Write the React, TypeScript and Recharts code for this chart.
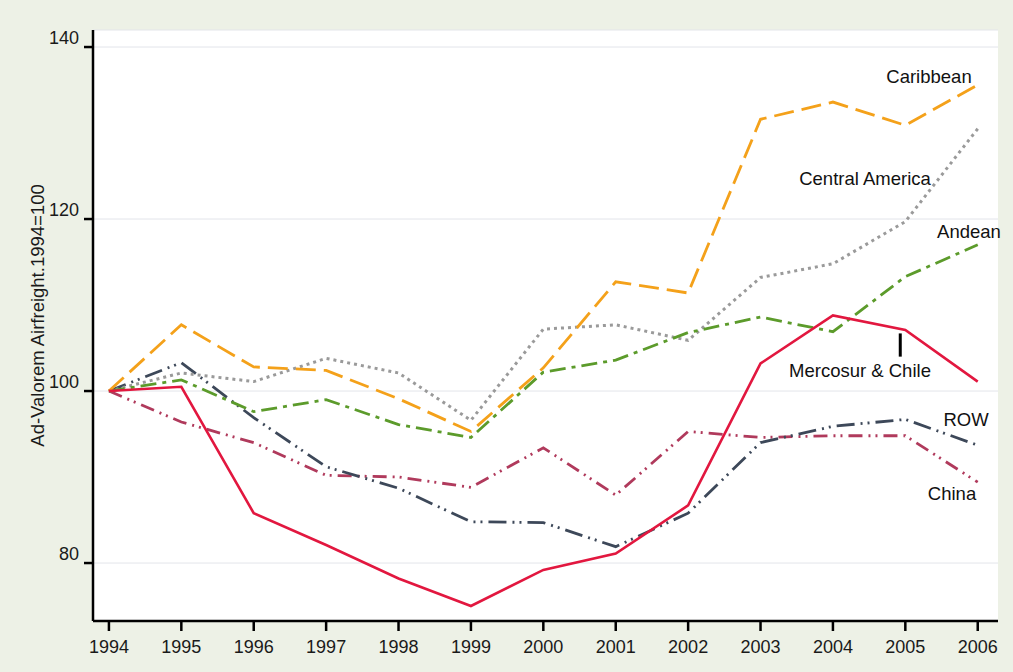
import React from 'react';
import { LineChart, Line, XAxis, YAxis, CartesianGrid, ReferenceLine } from 'recharts';

const years = [1994, 1995, 1996, 1997, 1998, 1999, 2000, 2001, 2002, 2003, 2004, 2005, 2006];
const caribbean = [100, 107.7, 102.8, 102.4, 99.1, 95.3, 102.7, 112.7, 111.4, 131.6, 133.6, 130.9, 135.6];
const centralAmerica = [100, 102.1, 101.1, 103.8, 102.1, 96.6, 107.2, 107.7, 105.9, 113.2, 114.8, 119.7, 130.5];
const andean = [100, 101.3, 97.6, 99.0, 96.1, 94.6, 102.2, 103.6, 106.8, 108.6, 106.9, 113.3, 117.0];
const mercosur = [100, 100.5, 85.8, 82.1, 78.2, 75.0, 79.2, 81.1, 86.7, 103.2, 108.8, 107.1, 101.1];
const row = [100, 103.3, 96.9, 91.2, 88.7, 84.8, 84.7, 81.9, 85.8, 94.0, 95.9, 96.7, 93.7];
const china = [100, 96.4, 94.0, 90.2, 90.0, 88.8, 93.4, 87.9, 95.3, 94.6, 94.8, 94.8, 89.4];
const yTicks = [80, 100, 120, 140];

const data = years.map((year, i) => ({
  year,
  caribbean: caribbean[i],
  centralAmerica: centralAmerica[i],
  andean: andean[i],
  mercosur: mercosur[i],
  row: row[i],
  china: china[i],
}));

const FONT = 'Liberation Sans, Arial, sans-serif';

const YTick = (props: any) => {
  const { x, y, payload } = props;
  return (
    <text x={x - 3} y={y - 9} textAnchor="end" dominantBaseline="central" fontSize={18} fontFamily={FONT} fill="#1a1a1a">
      {payload.value}
    </text>
  );
};

const XTick = (props: any) => {
  const { x, y, payload } = props;
  return (
    <text x={x} y={y + 14} textAnchor="middle" dominantBaseline="central" fontSize={18} fontFamily={FONT} fill="#1a1a1a">
      {payload.value}
    </text>
  );
};

// series name annotations, placed beside the line ends as in the source figure
const labels = [
  { text: 'Caribbean', x: 929, y: 76 },
  { text: 'Central America', x: 865, y: 178 },
  { text: 'Andean', x: 969, y: 231 },
  { text: 'Mercosur & Chile', x: 860, y: 370 },
  { text: 'ROW', x: 966, y: 419 },
  { text: 'China', x: 952, y: 493 },
];

export default function App() {
  return (
    <div style={{ position: 'absolute', left: 0, top: 0, width: 1013, height: 672, background: '#edf1e6' }}>
      <LineChart width={1013} height={672} data={data} margin={{ top: 30, right: 15, bottom: 21, left: 0 }}>
        <CartesianGrid vertical={false} stroke="#e3e5ea" fill="#ffffff" />
        <XAxis
          type="number"
          dataKey="year"
          domain={[1993.78, 2006.28]}
          ticks={years}
          interval={0}
          allowDataOverflow
          height={30}
          tickSize={10}
          axisLine={{ stroke: '#000', strokeWidth: 2.5 }}
          tickLine={{ stroke: '#000', strokeWidth: 2.5 }}
          tick={<XTick />}
        />
        <YAxis
          type="number"
          domain={[73.26, 141.98]}
          ticks={yTicks}
          allowDataOverflow
          width={93}
          tickSize={9}
          axisLine={{ stroke: '#000', strokeWidth: 2.5 }}
          tickLine={{ stroke: '#000', strokeWidth: 2.5 }}
          tick={<YTick />}
          label={{
            value: 'Ad-Valorem Airfreight.1994=100',
            angle: -90,
            position: 'insideLeft',
            dx: 32,
            dy: -10,
            style: { textAnchor: 'middle', fontSize: 18.5, fontFamily: FONT, fill: '#1a1a1a' },
          }}
        />
        <Line dataKey="china" stroke="#b03a5c" strokeWidth={2.8} strokeDasharray="14 6 2 5 2 6" dot={false} isAnimationActive={false} />
        <Line dataKey="row" stroke="#3d4859" strokeWidth={2.8} strokeDasharray="18 6 2 5 2 6" dot={false} isAnimationActive={false} />
        <Line dataKey="centralAmerica" stroke="#9a9a9a" strokeWidth={3} strokeDasharray="3 4" dot={false} isAnimationActive={false} />
        <Line dataKey="andean" stroke="#5c9b2b" strokeWidth={2.8} strokeDasharray="16 6 4 6" dot={false} isAnimationActive={false} />
        <Line dataKey="caribbean" stroke="#f4a11a" strokeWidth={2.8} strokeDasharray="20 8" dot={false} isAnimationActive={false} />
        <Line dataKey="mercosur" stroke="#e2173f" strokeWidth={2.6} dot={false} isAnimationActive={false} />
        <ReferenceLine segment={[{ x: 2004.93, y: 106.7 }, { x: 2004.93, y: 104.0 }]} stroke="#000" strokeWidth={3} />
      </LineChart>
      <svg width={1013} height={672} style={{ position: 'absolute', left: 0, top: 0, pointerEvents: 'none' }}>
        {labels.map((l) => (
          <text key={l.text} x={l.x} y={l.y} textAnchor="middle" dominantBaseline="central" fontSize={18.5} fontFamily={FONT} fill="#111">
            {l.text}
          </text>
        ))}
      </svg>
    </div>
  );
}
